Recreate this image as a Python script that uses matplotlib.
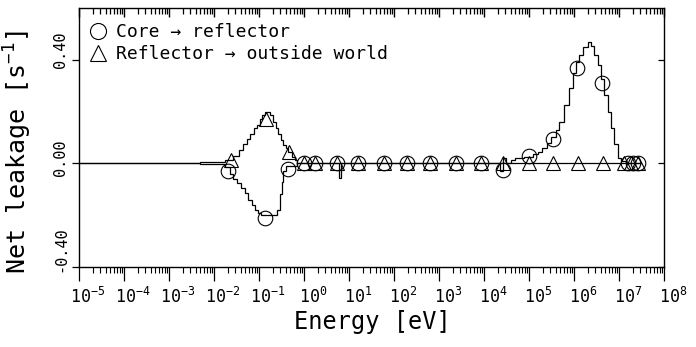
import numpy as np
import matplotlib
matplotlib.use("Agg")
import matplotlib.pyplot as plt
import matplotlib.transforms as mtransforms
from matplotlib.ticker import FixedLocator, FixedFormatter, LogLocator, NullFormatter

# Plotter-style mono text everywhere, including the 10^n tick labels
plt.rcParams['font.family'] = ['DejaVu Sans Mono', 'DejaVu Sans']
plt.rcParams['mathtext.fontset'] = 'custom'
plt.rcParams['mathtext.rm'] = 'DejaVu Sans Mono'
plt.rcParams['mathtext.it'] = 'DejaVu Sans Mono'
plt.rcParams['mathtext.bf'] = 'DejaVu Sans Mono'

# Group structure (log10 of energy in eV) and net leakage per group [1/s]
core_edges = [-5.0, -2.30, -1.75, -1.65, -1.57, -1.48, -1.40, -1.32, -1.24, -1.16,
              -1.08, -1.02, -0.95, -0.60, -0.53, -0.49, -0.46, -0.40, -0.15, 0.78,
              0.82, 4.35, 4.42, 4.50, 4.60, 4.70, 4.90, 5.10, 5.20, 5.30,
              5.40, 5.50, 5.60, 5.66, 5.78, 5.89, 5.98, 6.04, 6.11, 6.20,
              6.31, 6.38, 6.44, 6.53, 6.60, 6.67, 6.75, 6.82, 6.89, 6.98,
              7.04, 7.15, 7.50]
core_leak = [0.0, -0.003, -0.015, -0.04, -0.06, -0.075, -0.095, -0.115, -0.14, -0.16,
             -0.18, -0.19, -0.20, -0.18, -0.12, -0.07, -0.03, -0.01, 0.0, -0.055,
             0.0, -0.03, 0.02, 0.0, 0.015, 0.02, 0.025, 0.035, 0.045, 0.06,
             0.08, 0.10, 0.13, 0.16, 0.225, 0.29, 0.35, 0.39, 0.42, 0.45,
             0.47, 0.455, 0.42, 0.38, 0.325, 0.265, 0.20, 0.135, 0.073, 0.02,
             0.008, 0.0]

refl_edges = [-5.0, -2.30, -1.75, -1.57, -1.45, -1.35, -1.27, -1.19, -1.11, -1.04,
              -0.98, -0.93, -0.86, -0.76, -0.68, -0.62, -0.57, -0.51, -0.46, -0.40,
              -0.35, -0.26, -0.20, -0.15, 7.50]
refl_leak = [0.0, 0.004, 0.012, 0.03, 0.05, 0.075, 0.095, 0.115, 0.135, 0.15,
             0.17, 0.185, 0.20, 0.185, 0.16, 0.135, 0.115, 0.09, 0.07, 0.06,
             0.045, 0.025, 0.012, 0.0]

# Symbol positions along each curve
core_mark_e = [-1.68, -0.86, -0.35, -0.01, 0.25, 0.74, 1.21, 1.77, 2.30, 2.81,
               3.37, 3.93, 4.42, 5.00, 5.53, 6.06, 6.62, 7.20, 7.31, 7.42]
core_mark_v = [-0.03, -0.21, -0.02, 0.0, 0.0, 0.0, 0.0, 0.0, 0.0, 0.0,
               0.0, 0.0, -0.025, 0.03, 0.095, 0.37, 0.31, 0.0, 0.0, 0.0]
refl_mark_e = [-1.62, -0.84, -0.33, -0.01, 0.25, 0.74, 1.21, 1.77, 2.30, 2.81,
               3.37, 3.93, 4.42, 5.00, 5.53, 6.09, 6.64, 7.11, 7.27, 7.42]
refl_mark_v = [0.015, 0.17, 0.045, 0.0, 0.0, 0.0, 0.0, 0.0, 0.0, 0.0,
               0.0, 0.0, 0.0, 0.0, 0.0, 0.0, 0.0, 0.0, 0.0, 0.0]

y_ticks = [-0.40, 0.00, 0.40]
y_tick_labels = ['-0.40', '0.00', '0.40']

XLIM = (1e-5, 1e8)
YLIM = (-0.4, 0.6)

fig = plt.figure(figsize=(6.96, 3.47), dpi=100)
ax = fig.add_axes([0.1135, 0.2305, 0.8405, 0.7465])

# histogram curves
ax.stairs(core_leak, 10.0 ** np.array(core_edges), baseline=None, color='black', lw=0.9)
ax.stairs(refl_leak, 10.0 ** np.array(refl_edges), baseline=None, color='black', lw=0.9)

# open symbols on top of the curves
ax.plot(10.0 ** np.array(core_mark_e), core_mark_v, linestyle='none', marker='o',
        ms=10.5, mfc='none', mec='black', mew=0.8, label='Core \u2192 reflector')
ax.plot(10.0 ** np.array(refl_mark_e), refl_mark_v, linestyle='none', marker='^',
        ms=10.5, mfc='none', mec='black', mew=0.8, label='Reflector \u2192 outside world')

ax.set_xscale('log')
ax.set_xlim(*XLIM)
ax.set_ylim(*YLIM)

# x axis: decade labels, 2..9 minor marks, ticks hang below the frame
major_loc = LogLocator(base=10, numticks=20)
minor_loc = LogLocator(base=10, subs=np.arange(2, 10), numticks=200)
ax.xaxis.set_major_locator(major_loc)
ax.xaxis.set_minor_locator(minor_loc)
ax.xaxis.set_minor_formatter(NullFormatter())
ax.tick_params(axis='x', which='major', direction='out', length=10, width=0.9,
               labelsize=12, pad=4, top=False)
ax.tick_params(axis='x', which='minor', direction='out', length=4, width=0.8, top=False)

# y axis
ax.yaxis.set_major_locator(FixedLocator(y_ticks))
ax.yaxis.set_major_formatter(FixedFormatter(y_tick_labels))
ax.tick_params(axis='y', which='major', direction='out', length=5, width=0.9,
               labelsize=11, pad=3, right=False)
ax.tick_params(axis='y', which='minor', left=False)

# top and right marks point into the frame, drawn from the same locators
def inside(vals, lo, hi):
    return [v for v in vals if lo * 0.999 <= v <= hi * 1.001]

top_major = inside(major_loc.tick_values(*XLIM), *XLIM)
top_minor = inside(minor_loc.tick_values(*XLIM), *XLIM)
ymax = YLIM[1]
yspan = YLIM[1] - YLIM[0]
ax.vlines(top_major, ymax - yspan * 9 / 259, ymax, color='black', lw=1.0,
          clip_on=False, zorder=10)
ax.vlines(top_minor, ymax - yspan * 6 / 259, ymax, color='black', lw=0.9,
          clip_on=False, zorder=10)
ax.hlines(y_ticks, XLIM[1] / 10 ** (13 * 6 / 585), XLIM[1], color='black', lw=0.9,
          clip_on=False, zorder=10)

for s in ax.spines.values():
    s.set_linewidth(1.0)

fig.text(372 / 696, 1 - 322 / 347, 'Energy [eV]', fontsize=17, ha='center', va='center')
fig.text(18 / 696, 1 - 152 / 347, 'Net leakage [s$^{-1}$]', fontsize=18, rotation=90,
         ha='center', va='center')

ax.legend(loc='upper left', bbox_to_anchor=(-0.005, 0.99), frameon=False, fontsize=13,
          handlelength=1.0, handletextpad=0.5, labelspacing=0.2, borderaxespad=0.3,
          markerscale=1.1)

fig.canvas.draw()

# labels sit a little right of their decade mark
shift_x = mtransforms.ScaledTranslation(9 / 100, 0, fig.dpi_scale_trans)
for lbl in ax.get_xticklabels():
    lbl.set_transform(lbl.get_transform() + shift_x)
for lbl, dy in zip(ax.get_yticklabels(), [18, 6, 10]):
    lbl.set_rotation(90)
    lbl.set_va('center')
    lbl.set_transform(lbl.get_transform() +
                      mtransforms.ScaledTranslation(0, dy / 100, fig.dpi_scale_trans))

fig.savefig('out.png', dpi=100)
